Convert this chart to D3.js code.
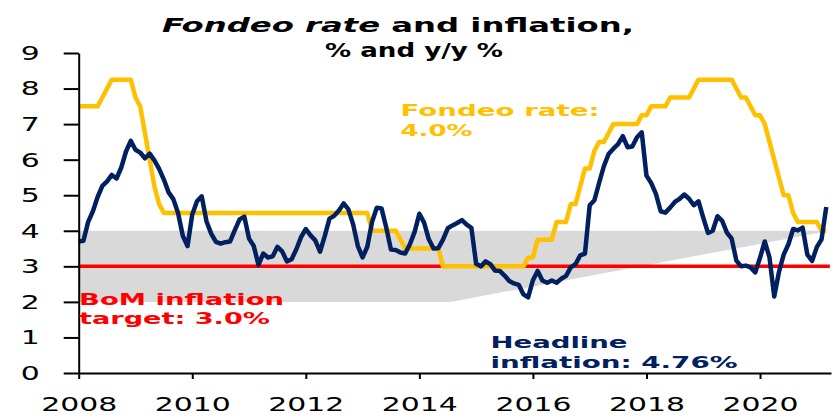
<html>
<head>
<meta charset="utf-8">
<script src="https://cdnjs.cloudflare.com/ajax/libs/d3/7.8.5/d3.min.js"></script>
<style>
    body { margin: 0; background: #fff; }
    text { font-family: "DejaVu Sans", Verdana, sans-serif; }
</style>
</head>
<body>
<svg id="chart" width="840" height="420"></svg>
<script>
// monthly, Jan 2008 .. Mar 2021
var startYear = 2008;
var fondeo = [
    7.5, 7.5, 7.5, 7.5, 7.5, 7.75, 8.0, 8.25, 8.25, 8.25, 8.25, 8.25,
    7.75, 7.5, 6.75, 6.0, 5.25, 4.75, 4.5, 4.5, 4.5, 4.5, 4.5, 4.5,
    4.5, 4.5, 4.5, 4.5, 4.5, 4.5, 4.5, 4.5, 4.5, 4.5, 4.5, 4.5,
    4.5, 4.5, 4.5, 4.5, 4.5, 4.5, 4.5, 4.5, 4.5, 4.5, 4.5, 4.5,
    4.5, 4.5, 4.5, 4.5, 4.5, 4.5, 4.5, 4.5, 4.5, 4.5, 4.5, 4.5,
    4.5, 4.5, 4.0, 4.0, 4.0, 4.0, 4.0, 4.0, 3.75, 3.5, 3.5, 3.5,
    3.5, 3.5, 3.5, 3.5, 3.5, 3.0, 3.0, 3.0, 3.0, 3.0, 3.0, 3.0,
    3.0, 3.0, 3.0, 3.0, 3.0, 3.0, 3.0, 3.0, 3.0, 3.0, 3.0, 3.25,
    3.25, 3.75, 3.75, 3.75, 3.75, 4.25, 4.25, 4.25, 4.75, 4.75, 5.25, 5.75,
    5.75, 6.25, 6.5, 6.5, 6.75, 7.0, 7.0, 7.0, 7.0, 7.0, 7.0, 7.25,
    7.25, 7.5, 7.5, 7.5, 7.5, 7.75, 7.75, 7.75, 7.75, 7.75, 8.0, 8.25,
    8.25, 8.25, 8.25, 8.25, 8.25, 8.25, 8.25, 8.0, 7.75, 7.75, 7.5, 7.25,
    7.25, 7.0, 6.5, 6.0, 5.5, 5.0, 5.0, 4.5, 4.25, 4.25, 4.25, 4.25,
    4.25, 4.0, 4.0
];
var inflation = [
    3.70, 3.72, 4.25, 4.55, 4.95, 5.26, 5.39, 5.57, 5.47, 5.78, 6.23, 6.53,
    6.28, 6.20, 6.04, 6.17, 5.98, 5.74, 5.44, 5.08, 4.89, 4.50, 3.86, 3.57,
    4.46, 4.83, 4.97, 4.27, 3.92, 3.69, 3.64, 3.68, 3.70, 4.02, 4.32, 4.40,
    3.78, 3.57, 3.04, 3.36, 3.25, 3.28, 3.55, 3.42, 3.14, 3.20, 3.48, 3.82,
    4.05, 3.87, 3.73, 3.41, 3.85, 4.34, 4.42, 4.57, 4.77, 4.60, 4.18, 3.57,
    3.25, 3.55, 4.25, 4.65, 4.63, 4.09, 3.47, 3.46, 3.39, 3.36, 3.62, 3.97,
    4.48, 4.23, 3.76, 3.50, 3.51, 3.75, 4.07, 4.15, 4.22, 4.30, 4.17, 4.08,
    3.07, 3.00, 3.14, 3.06, 2.88, 2.87, 2.74, 2.59, 2.52, 2.48, 2.21, 2.13,
    2.61, 2.87, 2.60, 2.54, 2.60, 2.54, 2.65, 2.73, 2.97, 3.06, 3.31, 3.36,
    4.72, 4.86, 5.35, 5.82, 6.16, 6.31, 6.44, 6.66, 6.35, 6.37, 6.63, 6.77,
    5.55, 5.34, 5.04, 4.55, 4.51, 4.65, 4.81, 4.90, 5.02, 4.90, 4.72, 4.83,
    4.37, 3.94, 4.00, 4.41, 4.28, 3.95, 3.78, 3.16, 3.00, 3.02, 2.97, 2.83,
    3.24, 3.70, 3.25, 2.15, 2.84, 3.33, 3.62, 4.05, 4.01, 4.09, 3.33, 3.15,
    3.54, 3.76, 4.67
];
// inflation target band (tolerance range), by year
var bandYears = [2008, 2014.55, 2021.23];
var bandLow = [2, 2, 4];
var bandHigh = [4, 4, 4];
var target = 3.0;
var yearTicks = [2008, 2010, 2012, 2014, 2016, 2018, 2020];
var valueTicks = [0, 1, 2, 3, 4, 5, 6, 7, 8, 9];

var svg = d3.select("#chart");

var x = d3.scaleLinear().domain([2008, 2021.25]).range([78.7, 831]);
var y = d3.scaleLinear().domain([0, 9]).range([373, 53]);

function monthX(d, i) { return x(startYear + i / 12); }

// shaded band
var band = bandYears.map(function(d, i) { return {yr: d, lo: bandLow[i], hi: bandHigh[i]}; });
svg.append("path")
    .datum(band)
    .attr("fill", "#d9d9d9")
    .attr("d", d3.area()
        .x(function(d) { return x(d.yr); })
        .y0(function(d) { return y(d.lo); })
        .y1(function(d) { return y(d.hi); }));

// target line
svg.append("line")
    .attr("x1", x(2008)).attr("x2", x(2021.23))
    .attr("y1", y(target)).attr("y2", y(target))
    .attr("stroke", "#ff0000")
    .attr("stroke-width", 3.5);

var line = d3.line().x(monthX).y(function(d) { return y(d); });

svg.append("path")
    .datum(fondeo)
    .attr("fill", "none")
    .attr("stroke", "#ffc000")
    .attr("stroke-width", 4.5)
    .attr("stroke-linejoin", "round")
    .attr("d", line);

svg.append("path")
    .datum(inflation)
    .attr("fill", "none")
    .attr("stroke", "#002060")
    .attr("stroke-width", 4.5)
    .attr("stroke-linejoin", "round")
    .attr("d", line);

// axes
var yAxis = svg.append("g")
    .attr("transform", "translate(" + x(2008) + ",0)")
    .call(d3.axisLeft(y).tickValues(valueTicks).tickSize(15).tickSizeOuter(0).tickPadding(24));

var xAxis = svg.append("g")
    .attr("transform", "translate(0," + y(0) + ")")
    .call(d3.axisBottom(x).tickValues(yearTicks).tickFormat(d3.format("d"))
        .tickSize(6).tickSizeOuter(0).tickPadding(18));

[yAxis, xAxis].forEach(function(ax) {
    ax.selectAll("path, line").attr("stroke", "#000").attr("stroke-width", 2);
    ax.selectAll("text")
        .attr("fill", "#000")
        .style("font-family", "'DejaVu Sans', Verdana, sans-serif")
        .style("font-size", "20px")
        .attr("lengthAdjust", "spacingAndGlyphs");
});
yAxis.selectAll("text").attr("textLength", 19);
xAxis.selectAll("text").attr("textLength", 76);

// title
var t1 = svg.append("text")
    .attr("x", 162).attr("y", 32)
    .attr("font-size", 19).attr("font-weight", "bold")
    .attr("textLength", 472).attr("lengthAdjust", "spacingAndGlyphs");
t1.append("tspan").attr("font-style", "italic").text("Fondeo rate");
t1.append("tspan").text(" and inflation,");

svg.append("text")
    .attr("x", 325).attr("y", 56.5)
    .attr("font-size", 19).attr("font-weight", "bold")
    .attr("textLength", 178).attr("lengthAdjust", "spacingAndGlyphs")
    .text("% and y/y %");

// annotations
function label(txt, xx, yy, w, col) {
    svg.append("text")
        .attr("x", xx).attr("y", yy)
        .attr("font-size", 16.5).attr("font-weight", "bold")
        .attr("fill", col)
        .attr("textLength", w).attr("lengthAdjust", "spacingAndGlyphs")
        .text(txt);
}
label("Fondeo rate:", 400.5, 115.5, 199, "#ffc000");
label("4.0%", 400.5, 135.5, 72, "#ffc000");
label("BoM inflation", 79, 304.5, 205, "#ff0000");
label("target: 3.0%", 79, 324, 191, "#ff0000");
label("Headline", 490.5, 347.5, 137, "#002060");
label("inflation: 4.76%", 490.5, 368, 247, "#002060");
</script>
</body>
</html>
